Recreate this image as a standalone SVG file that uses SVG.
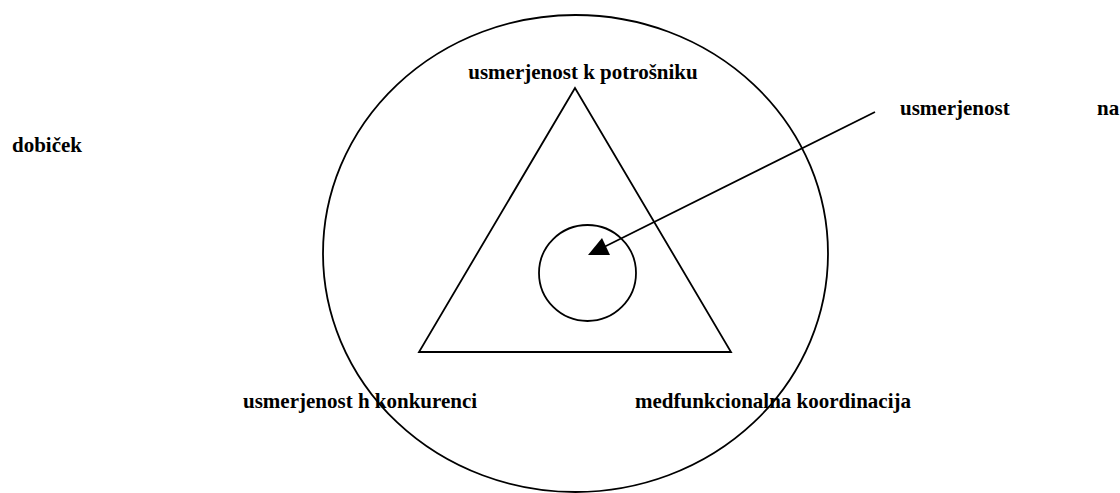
<svg xmlns="http://www.w3.org/2000/svg" width="1120" height="493" viewBox="0 0 1120 493">
<style>
.shape{fill:none;stroke:#000;stroke-width:1.8}
text{font-family:'Liberation Serif','Times New Roman',Times,serif;font-weight:700;font-size:21px;fill:#000}
</style>
<rect width="1120" height="493" fill="#fff"/>
<g id="outer-circle"><ellipse class="shape" cx="575.5" cy="253.5" rx="252.5" ry="238.5"/></g>
<g id="triangle"><polygon class="shape" points="575,88 419,352 731,352"/></g>
<g id="inner-circle"><ellipse class="shape" cx="587.5" cy="273" rx="48.5" ry="48"/></g>
<g id="connectors">
<line class="shape" x1="875" y1="112" x2="604" y2="247"/>
<polygon points="588,255 610,255 602,238" fill="#000"/>
</g>
<g id="label-potrosnik"><text font-family="Liberation Serif" x="583" y="79" text-anchor="middle">usmerjenost k potrošniku</text></g>
<g id="label-dobicek">
<text font-family="Liberation Serif" x="900" y="115">usmerjenost</text>
<text font-family="Liberation Serif" x="1097" y="115">na</text>
<text font-family="Liberation Serif" x="12" y="152">dobiček</text>
</g>
<g id="label-konkurenca"><text font-family="Liberation Serif" x="243" y="408">usmerjenost h konkurenci</text></g>
<g id="label-koordinacija"><text font-family="Liberation Serif" x="635" y="408">medfunkcionalna koordinacija</text></g>
</svg>
